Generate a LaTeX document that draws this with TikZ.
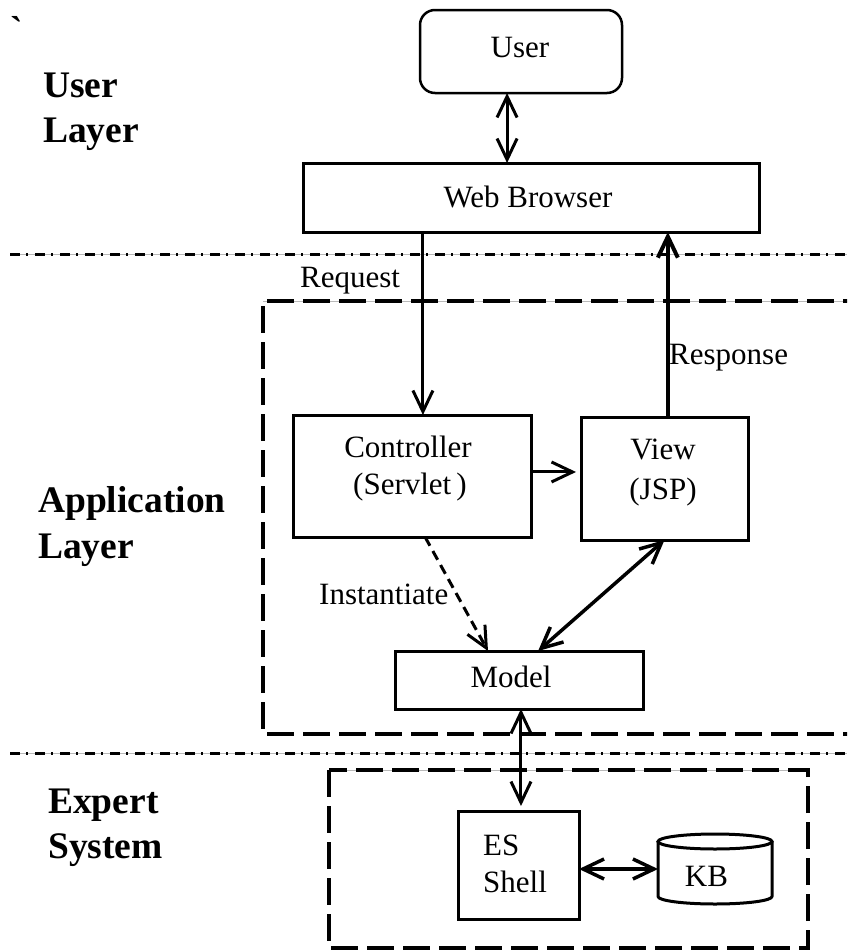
\documentclass[tikz,border=0pt]{standalone}
\usepackage{fontspec}
\setmainfont{Liberation Serif}
\newfontfamily\rawserif{Liberation Serif}[Ligatures=TeXOff]
\usetikzlibrary{arrows.meta,calc}

\begin{document}
\begin{tikzpicture}[x=1pt,y=-1pt,
  >={Straight Barb[length=21pt,width=20pt]},
  box/.style={draw, line width=3pt, inner sep=0pt, outer sep=0pt},
  txt/.style={font=\fontsize{31}{36}\selectfont, inner sep=0pt, anchor=base},
  txtw/.style={txt, anchor=base west},
  lyr/.style={font=\fontsize{37.5}{45}\selectfont\bfseries, inner sep=0pt, anchor=base west},
  conn/.style={line width=3pt},
  sepline/.style={line width=3pt, dash pattern=on 10pt off 6pt on 2pt off 7pt},
  hairline/.style={line width=1pt, gray!55},
  zone/.style={line width=4pt, dash pattern=on 27pt off 9pt}
]
\useasboundingbox (0,0) rectangle (847,951);
\fill[white] (0,0) rectangle (847,951);
\clip (0,0) rectangle (847,951);

% layer separators
\draw[hairline] (10,254) -- (847,254);
\draw[sepline] (10,254) -- (847,254);
\draw[hairline] (10,753) -- (847,753);
\draw[sepline] (10,753) -- (847,753);

% dashed zones
\draw[hairline] (263,301) -- (870,301);
\draw[zone] (870,301) -- (263,301) -- (263,734) -- (870,734);
\draw[hairline] (329,770) -- (808,770);
\draw[zone] (329,770) rectangle (808,948);

% layer titles
\node[lyr, font=\fontsize{37.5}{45}\selectfont\rawserif\bfseries] (tick) at (10,42) {\symbol{"60}};
\node[lyr] (ul1) at (43,97) {User};
\node[lyr] (ul2) at (43,142) {Layer};
\node[lyr] (al1) at (38,512) {Application};
\node[lyr] (al2) at (38,558) {Layer};
\node[lyr] (es1) at (48,813) {Expert};
\node[lyr] (es2) at (48,858) {System};

% components
\node[box, rounded corners=15pt, line width=2.5pt, minimum width=202pt, minimum height=83pt] (user) at (521,51.5) {};
\node[box, minimum width=456pt, minimum height=69pt] (browser) at (531,197.5) {};
\node[box, minimum width=238pt, minimum height=122pt] (ctrl) at (412,476) {};
\node[box, minimum width=167pt, minimum height=123pt] (view) at (664.5,478.5) {};
\node[box, minimum width=248pt, minimum height=58pt] (model) at (519,680) {};
\node[box, minimum width=121pt, minimum height=108pt] (shell) at (518.5,865) {};

% knowledge base drum
\node[inner sep=0pt, outer sep=0pt, minimum width=114pt, minimum height=70pt] (kb) at (715,869) {};
\draw[line width=3pt, line join=round]
  ($(kb.north west)+(0,7.5)$) -- ($(kb.south west)-(0,7.5)$)
  arc[start angle=180, end angle=0, x radius=57, y radius=7.5]
  -- ($(kb.north east)+(0,7.5)$);
\draw[line width=3pt] ($(kb.north)+(0,7.5)$) ellipse[x radius=57, y radius=7.5];

% component texts
\node[txt] (userT) at (520,57) {User};
\node[txt] (browserT) at (528,207) {Web Browser};
\node[txt] (ctrlT1) at (408,457) {Controller};
\node[txt] (ctrlT2) at (410,494) {(Servlet\,)};
\node[txt] (viewT1) at (663,459) {View};
\node[txt] (viewT2) at (663,499) {(JSP)};
\node[txt] (modelT) at (511,687) {Model};
\node[txtw] (shellT1) at (483,855) {ES};
\node[txtw] (shellT2) at (483,892) {Shell};
\node[txt] (kbT) at (706.5,886) {KB};

% connector labels
\node[txtw] (reqT) at (300,287) {Request};
\node[txtw] (resT) at (669,364) {Response};
\node[txtw] (instT) at (319,604) {Instantiate};

% connectors
\coordinate (uA) at ($(user.south west)!0.431!(user.south east)$);
\draw[conn, <->] (uA) -- (uA |- browser.north);

\coordinate (rqA) at ($(browser.south west)!0.263!(browser.south east)$);
\draw[conn, ->] (rqA) -- (rqA |- ctrl.north);

\coordinate (rsA) at ($(view.north west)!0.52!(view.north east)$);
\draw[line width=4pt, ->] (rsA) -- (rsA |- browser.south);

\coordinate (cvA) at ($(ctrl.north east)!0.467!(ctrl.south east)$);
\draw[conn, ->, shorten >=5pt] (cvA) -- (cvA -| view.west);

\coordinate (inA) at ($(ctrl.south west)!0.555!(ctrl.south east)$);
\coordinate (inB) at ($(model.north west)!0.375!(model.north east)$);
\draw[conn, ->, dash pattern=on 10pt off 6pt] (inA) -- (inB);

\coordinate (vmB) at ($(model.north west)!0.577!(model.north east)$);
\draw[line width=3.5pt, <->] (view.south) -- (vmB);

\coordinate (msA) at ($(model.south west)!0.508!(model.south east)$);
\draw[conn, <->, shorten >=5pt] (msA) -- (msA |- shell.north);

\draw[line width=3.5pt, <->] (shell.east |- kb.west) -- (kb.west);
\end{tikzpicture}
\end{document}
